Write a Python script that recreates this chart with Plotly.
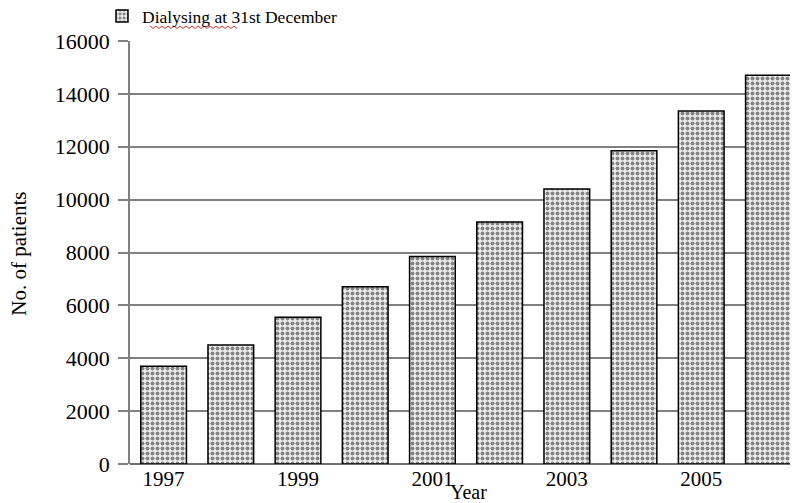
import plotly.graph_objects as go

years = ["1997", "1998", "1999", "2000", "2001", "2002", "2003", "2004", "2005", "2006"]
patients = [3700, 4500, 5550, 6700, 7850, 9150, 10400, 11850, 13350, 14700]
year_ticks = ["1997", "1999", "2001", "2003", "2005"]
y_ticks = [0, 2000, 4000, 6000, 8000, 10000, 12000, 14000, 16000]
series_name = "Dialysing at 31st December"

FONT = "Liberation Serif"
OFF = 8  # page body margin in the browser
W, H = 798 - OFF, 503 - OFF
ML, MR, MT, MB = 130 - OFF, 0, 41 - OFF, 38.5
PW, PH = W - ML - MR, H - MT - MB


def px(x):
    # reference-screenshot pixel -> paper coordinate
    return (x - OFF - ML) / PW


def py(y):
    return (H - MB - (y - OFF)) / PH


fig = go.Figure()
fig.add_trace(go.Bar(
    x=years, y=patients, name=series_name, width=0.68,
    marker=dict(
        color="white",
        line=dict(color="black", width=1.5),
        pattern=dict(shape=".", fgcolor="#1a1a1a", bgcolor="#eeeeee", size=5, solidity=0.5),
    ),
    showlegend=True,
))

# spell-check style red wavy underline below "Dialysing" in the legend
wave = "M " + " L ".join(
    f"{px(150 + 3 * i)},{py(26 if i % 2 == 0 else 28.5)}" for i in range(30)
)

fig.update_layout(
    width=W, height=H,
    margin=dict(l=ML, r=MR, t=MT, b=MB, autoexpand=False),
    paper_bgcolor="white", plot_bgcolor="white",
    font=dict(family=FONT, color="black", size=20),
    legend=dict(x=px(102), y=py(16), xanchor="left", yanchor="middle", orientation="h",
                font=dict(family=FONT, size=17.5, color="black"),
                bgcolor="rgba(0,0,0,0)", itemwidth=30, tracegroupgap=0),
    xaxis=dict(
        type="category", range=[-0.5, 9.44],
        tickmode="array", tickvals=year_ticks, ticktext=year_ticks,
        showgrid=False, showline=False, ticks="",
        tickfont=dict(family=FONT, size=21),
        ticklabelstandoff=0,
    ),
    yaxis=dict(
        range=[0, 16000], tickmode="array", tickvals=y_ticks,
        ticktext=[str(v) for v in y_ticks],
        showgrid=True, gridcolor="#808080", gridwidth=1.6,
        showline=True, linecolor="#808080", linewidth=1.6,
        ticks="outside", ticklen=10, tickcolor="#808080", tickwidth=1.6,
        zeroline=True, zerolinecolor="#707070", zerolinewidth=1.6,
        tickfont=dict(family=FONT, size=22),
        ticklabelstandoff=4,
    ),
    annotations=[
        dict(text="Year", xref="paper", yref="paper", x=px(468), y=py(493),
             xanchor="center", yanchor="middle", showarrow=False,
             font=dict(family=FONT, size=20, color="black")),
        dict(text="No. of patients", xref="paper", yref="paper", x=px(19), y=py(254),
             xanchor="center", yanchor="middle", showarrow=False, textangle=-90,
             font=dict(family=FONT, size=21, color="black")),
    ],
    shapes=[dict(type="path", path=wave, xref="paper", yref="paper",
                 line=dict(color="#e03030", width=1))],
)

fig.write_html("out.html")
